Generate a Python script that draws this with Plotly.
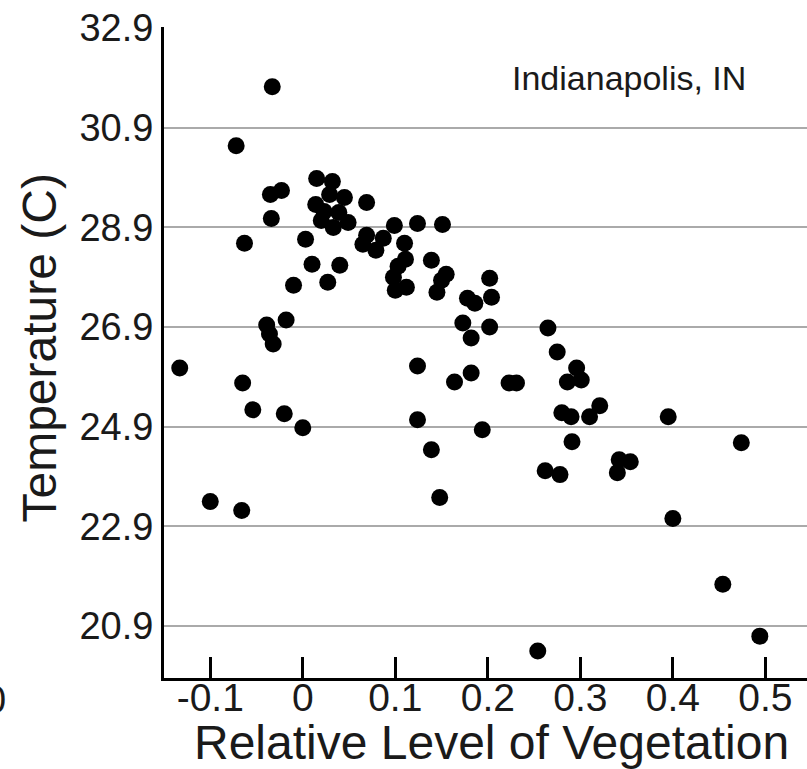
import plotly.graph_objects as go

# relative level of vegetation vs temperature (C), Indianapolis, IN
vegetation = [
    -0.033, -0.072, -0.035, -0.023, -0.034, -0.063, 0.003, 0.015, 0.032, 0.029,
    0.045, 0.014, 0.023, 0.039, 0.049, 0.033, 0.020, 0.069, 0.099, 0.124,
    0.151, 0.069, 0.087, 0.079, 0.065, 0.110, 0.111, 0.103, 0.098, 0.100,
    0.112, 0.139, 0.155, 0.150, 0.145, 0.202, 0.204, 0.178, 0.186, 0.173,
    0.182, 0.202, 0.010, 0.040, -0.010, 0.027, -0.039, -0.036, -0.032, -0.018,
    -0.133, -0.065, -0.054, -0.020, 0.000, -0.100, -0.066, 0.124, 0.164, 0.182,
    0.124, 0.139, 0.194, 0.148, 0.265, 0.275, 0.296, 0.286, 0.301, 0.223,
    0.231, 0.280, 0.290, 0.310, 0.321, 0.291, 0.395, 0.474, 0.262, 0.278,
    0.342, 0.354, 0.340, 0.400, 0.454, 0.494, 0.254,
]
temperature = [
    31.72, 30.54, 29.56, 29.64, 29.08, 28.58, 28.66, 29.88, 29.82, 29.56,
    29.50, 29.36, 29.22, 29.20, 29.00, 28.90, 29.04, 29.40, 28.94, 28.98,
    28.96, 28.74, 28.68, 28.44, 28.56, 28.58, 28.26, 28.12, 27.90, 27.64,
    27.70, 28.24, 27.96, 27.84, 27.60, 27.88, 27.50, 27.48, 27.38, 26.98,
    26.68, 26.90, 28.16, 28.14, 27.74, 27.80, 26.94, 26.76, 26.56, 27.04,
    26.08, 25.78, 25.24, 25.16, 24.88, 23.40, 23.22, 26.12, 25.80, 25.98,
    25.04, 24.44, 24.84, 23.48, 26.88, 26.40, 26.08, 25.80, 25.84, 25.78,
    25.78, 25.18, 25.10, 25.10, 25.32, 24.60, 25.10, 24.58, 24.02, 23.94,
    24.24, 24.20, 23.98, 23.06, 21.74, 20.70, 20.40,
]

x_ticks = [-0.1, 0, 0.1, 0.2, 0.3, 0.4, 0.5]
x_labels = ["-0.1", "0", "0.1", "0.2", "0.3", "0.4", "0.5"]
y_ticks = [20.9, 22.9, 24.9, 26.9, 28.9, 30.9, 32.9]
y_labels = ["20.9", "22.9", "24.9", "26.9", "28.9", "30.9", "32.9"]

FONT = "Liberation Sans, Arial, sans-serif"
INK = "#1a1a1a"

fig = go.Figure(go.Scatter(
    x=vegetation, y=temperature, mode="markers",
    marker=dict(color="black", size=17, line=dict(width=0)),
    showlegend=False,
))

fig.update_layout(
    width=807, height=769,
    margin=dict(l=164, r=0, t=27, b=91, autoexpand=False),
    plot_bgcolor="white", paper_bgcolor="white",
    font=dict(family=FONT, color=INK),
    annotations=[
        dict(text="Indianapolis, IN", x=0.353, y=31.9, xref="x", yref="y",
             showarrow=False, font=dict(size=34, color=INK)),
        # axis titles placed by hand
        dict(text="Relative Level of Vegetation", x=0.5086, y=-0.0998,
             xref="paper", yref="paper", xanchor="center", yanchor="middle",
             showarrow=False, font=dict(size=48, color=INK)),
        dict(text="Temperature (C)", x=-0.1935, y=0.507, textangle=-90,
             xref="paper", yref="paper", xanchor="center", yanchor="middle",
             showarrow=False, font=dict(size=48, color=INK)),
        # stray label from the neighbouring panel, cut by the left edge
        dict(text="0", x=-0.243, y=-0.034, xref="paper", yref="paper",
             xanchor="right", yanchor="middle", showarrow=False,
             font=dict(size=38, color=INK)),
    ],
)

fig.update_xaxes(
    range=[-0.15, 0.545], tickvals=x_ticks, ticktext=x_labels,
    ticks="inside", ticklen=21, tickwidth=3, tickcolor="black",
    showline=True, linecolor="black", linewidth=3,
    showgrid=False, zeroline=False, automargin=False,
    tickfont=dict(size=39), ticklabelstandoff=-17,
)
fig.update_yaxes(
    range=[19.86, 32.92], tickvals=y_ticks, ticktext=y_labels,
    ticks="", showline=True, linecolor="black", linewidth=3,
    showgrid=True, gridcolor="#aaaaaa", gridwidth=2, zeroline=False,
    automargin=False, tickfont=dict(size=38), ticklabelstandoff=0,
)

# drop the default 8px body margin so the figure sits at the page corner
fig.write_html("out.html", config={"displayModeBar": False},
               post_script="document.body.style.margin='0';")
